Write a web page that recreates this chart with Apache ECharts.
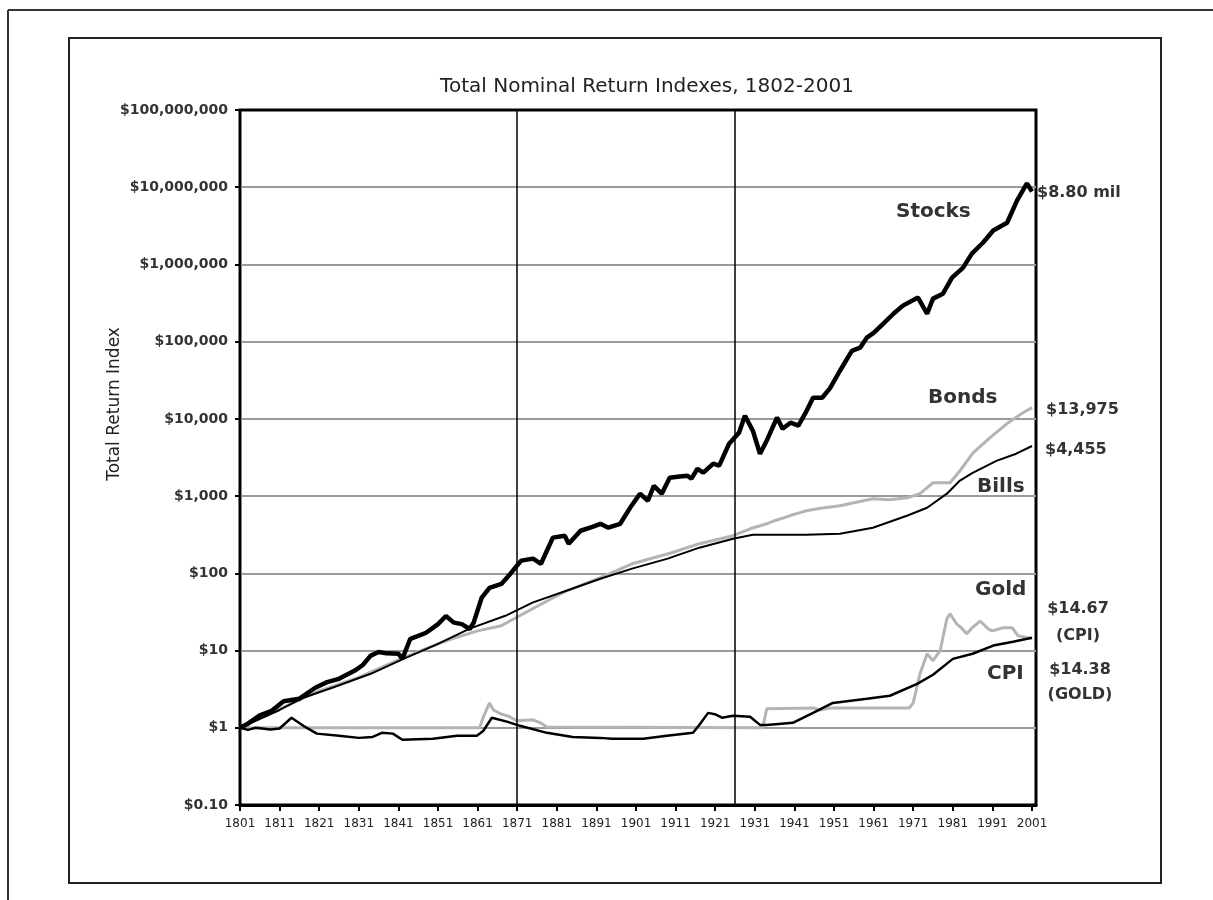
<!DOCTYPE html>
<html>
<head>
<meta charset="utf-8">
<script src="https://cdn.jsdelivr.net/npm/echarts@6/dist/echarts.min.js"></script>
<style>
  html, body { margin: 0; padding: 0; background: #fff; }
  #chart { width: 1213px; height: 900px; }
</style>
</head>
<body>
<div id="chart"></div>
<script>
// 数据 (读图估算)
const baseYear = 1801;
const xTickYears = [1801, 1811, 1821, 1831, 1841, 1851, 1861, 1871, 1881, 1891, 1901, 1911, 1921, 1931, 1941, 1951, 1961, 1971, 1981, 1991, 2001];
const dividerYears = [1871, 1926];
const yTickValues = [0.1, 1, 10, 100, 1000, 10000, 100000, 1000000, 10000000, 100000000];

const stockYears = [1801, 1803, 1806, 1809, 1812, 1816, 1820, 1823, 1826, 1830, 1832, 1834, 1836, 1838, 1841, 1842, 1844, 1846, 1848, 1851, 1853, 1855, 1857, 1859, 1860, 1862, 1864, 1867, 1869, 1870.5, 1872, 1875, 1877, 1880, 1883, 1884, 1887, 1890, 1892, 1894, 1897, 1899.5, 1902, 1904, 1905.5, 1907.5, 1909.5, 1912, 1914, 1915, 1916.5, 1918, 1920.5, 1922, 1924.5, 1927, 1928.5, 1930.5, 1932.3, 1934, 1936.6, 1938, 1940, 1942, 1944, 1945.7, 1948, 1950, 1952.5, 1955.5, 1957.6, 1959.3, 1961, 1963.4, 1966, 1968.4, 1972.2, 1974.5, 1976, 1978.5, 1980.8, 1983.6, 1985.8, 1988.6, 1991.2, 1994.7, 1997.2, 1999.7, 2001];
const stockValues = [1, 1.13, 1.45, 1.66, 2.2, 2.38, 3.3, 3.9, 4.3, 5.5, 6.5, 8.6, 9.6, 9.2, 9.1, 7.8, 14.2, 15.5, 17, 22, 28, 23, 22, 19, 23, 48, 65, 73, 95, 118, 146, 155, 133, 290, 307, 242, 356, 400, 438, 390, 438, 705, 1075, 870, 1360, 1075, 1730, 1800, 1840, 1680, 2260, 2010, 2630, 2480, 4770, 6620, 11000, 7030, 3540, 5220, 10400, 7450, 8930, 8180, 12500, 18800, 18800, 25000, 42000, 76000, 83500, 113000, 130000, 170000, 230000, 293000, 372000, 230000, 361000, 418000, 675000, 910000, 1380000, 1910000, 2750000, 3470000, 6700000, 11200000, 8800000];

const bondYears = [1801, 1811, 1821, 1831, 1841, 1851, 1856, 1861, 1867, 1875, 1883, 1892, 1900, 1910, 1917, 1925.5, 1930, 1934, 1936, 1940, 1942.4, 1944, 1948, 1952.5, 1956, 1960.8, 1965, 1969.4, 1972.7, 1976, 1980.3, 1982.8, 1986.1, 1990.4, 1994.7, 1998.7, 2001];
const bondValues = [1, 1.75, 3.0, 4.5, 7.6, 12.2, 15, 18, 21, 35, 58, 88, 133, 185, 242, 307, 380, 438, 480, 560, 610, 647, 700, 750, 820, 925, 900, 950, 1075, 1490, 1490, 2130, 3640, 5710, 8700, 12000, 13975];

const billYears = [1801, 1811, 1817, 1825, 1834, 1842, 1851, 1859, 1868, 1875, 1883.6, 1892, 1900, 1909, 1917, 1925.5, 1930.5, 1944, 1952.5, 1960.8, 1969.4, 1974.5, 1979.5, 1982.8, 1986, 1992, 1997, 2001];
const billValues = [1, 1.7, 2.45, 3.4, 5.0, 7.7, 12.2, 19.2, 28.2, 42, 60, 85, 115, 155, 215, 281, 316, 316, 326, 390, 557, 707, 1075, 1590, 2000, 2860, 3540, 4455];

const goldYears = [1801, 1861.5, 1862.5, 1864, 1865, 1867, 1869, 1870, 1871, 1875, 1877, 1878.5, 1879, 1933, 1934, 1946, 1947.5, 1950, 1968, 1970, 1971, 1972.7, 1973.5, 1974.5, 1976, 1977.8, 1979.5, 1980.3, 1982, 1983, 1984.5, 1986, 1987.9, 1990, 1991, 1993.7, 1996, 1997.5, 2001];
const goldValues = [1, 1, 1.4, 2.1, 1.7, 1.5, 1.4, 1.3, 1.23, 1.27, 1.15, 1.02, 1, 1, 1.76, 1.8, 1.7, 1.8, 1.8, 1.8, 2.1, 5, 6.5, 9.1, 7.4, 10, 25.8, 30, 22, 20, 16.5, 20, 24, 19, 18, 19.7, 19.7, 15.5, 14.38];

const cpiYears = [1801, 1803, 1805, 1808.6, 1811, 1814, 1817, 1820.4, 1826, 1831, 1834.5, 1836.8, 1839.6, 1842, 1849.7, 1855.8, 1860.8, 1862.4, 1864.6, 1868.4, 1871.7, 1878.5, 1885, 1891.9, 1895, 1902.8, 1908.8, 1915.4, 1917.2, 1919.2, 1920.9, 1922.7, 1925.5, 1929.8, 1932.3, 1934, 1940.6, 1945.7, 1950.7, 1959.3, 1965.1, 1972, 1976, 1981, 1986, 1991.2, 1996.2, 2001];
const cpiValues = [1, 0.94, 1.0, 0.95, 0.98, 1.35, 1.06, 0.84, 0.79, 0.74, 0.76, 0.86, 0.84, 0.70, 0.72, 0.79, 0.79, 0.91, 1.35, 1.2, 1.06, 0.86, 0.76, 0.74, 0.72, 0.72, 0.79, 0.86, 1.13, 1.56, 1.5, 1.35, 1.43, 1.39, 1.09, 1.09, 1.16, 1.56, 2.1, 2.37, 2.6, 3.7, 4.86, 7.8, 9.1, 11.6, 13, 14.67];

const toPoints = (years, values) => years.map((y, i) => [y - baseYear, values[i]]);

const FONT = 'DejaVu Sans';
const myChart = echarts.init(document.getElementById('chart'), null, { renderer: 'canvas' });

// 外框和文字
const graphics = [
    { type: 'line', shape: { x1: 8, y1: 10, x2: 1213, y2: 10 }, style: { stroke: '#333', lineWidth: 2 } },
    { type: 'line', shape: { x1: 8, y1: 10, x2: 8, y2: 900 }, style: { stroke: '#333', lineWidth: 2 } },
    { type: 'rect', shape: { x: 69, y: 38, width: 1092, height: 845 }, style: { fill: 'none', stroke: '#222', lineWidth: 2 } },
    {
        type: 'text', x: 115, y: 404, rotation: Math.PI / 2,
        style: { text: 'Total Return Index', font: '17px "DejaVu Sans"', fill: '#222', align: 'center', verticalAlign: 'middle' }
    }
];
const notes = [
    ['Stocks', 896, 212, 'left', 20],
    ['Bonds', 928, 398, 'left', 20],
    ['Bills', 977, 487, 'left', 20],
    ['Gold', 975, 590, 'left', 20],
    ['CPI', 987, 674, 'left', 20],
    ['$8.80 mil', 1037, 193, 'left', 16],
    ['$13,975', 1046, 410, 'left', 16],
    ['$4,455', 1045, 450, 'left', 16],
    ['$14.67', 1078, 609, 'center', 16],
    ['(CPI)', 1078, 636, 'center', 16],
    ['$14.38', 1080, 670, 'center', 16],
    ['(GOLD)', 1080, 695, 'center', 16]
];
notes.forEach(([text, x, y, align, size]) => {
    graphics.push({
        type: 'text', x: x, y: y, z: 100,
        style: { text: text, font: 'bold ' + size + 'px "DejaVu Sans"', fill: '#333', align: align, verticalAlign: 'middle' }
    });
});

myChart.setOption({
    animation: false,
    backgroundColor: '#fff',
    title: {
        text: 'Total Nominal Return Indexes, 1802-2001',
        left: 642,
        top: 72,
        textAlign: 'center',
        textStyle: { fontFamily: FONT, fontSize: 20, fontWeight: 'normal', color: '#222' }
    },
    grid: {
        left: 240,
        top: 110,
        right: 177,
        bottom: 95,
        show: true,
        borderColor: '#000',
        borderWidth: 3,
        backgroundColor: 'transparent'
    },
    xAxis: {
        type: 'value',
        min: 0,
        max: 201,
        interval: 10,
        splitLine: { show: false },
        axisLine: { show: true, lineStyle: { color: '#000', width: 3 } },
        axisTick: { show: true, inside: false, length: 6, lineStyle: { color: '#000', width: 2 } },
        axisLabel: {
            margin: 13,
            fontFamily: FONT,
            fontSize: 12,
            color: '#222',
            showMaxLabel: false,
            formatter: (v) => (xTickYears.indexOf(v + baseYear) >= 0 ? String(v + baseYear) : '')
        }
    },
    yAxis: {
        type: 'log',
        logBase: 10,
        min: yTickValues[0],
        max: yTickValues[yTickValues.length - 1],
        splitLine: { show: true, showMinLine: false, showMaxLine: false, lineStyle: { color: '#9a9a9a', width: 2 } },
        axisLine: { show: true, lineStyle: { color: '#000', width: 2 } },
        axisTick: { show: true, inside: false, length: 5, lineStyle: { color: '#000', width: 2 } },
        axisLabel: {
            margin: 12,
            fontFamily: FONT,
            fontSize: 14,
            fontWeight: 'bold',
            color: '#333',
            formatter: (v) => (v < 1 ? '$0.10' : '$' + Math.round(v).toLocaleString('en-US'))
        }
    },
    graphic: graphics,
    series: [
        {
            name: 'dividers',
            type: 'line',
            data: [],
            z: 1,
            markLine: {
                silent: true,
                symbol: 'none',
                label: { show: false },
                lineStyle: { color: '#000', width: 1.5, type: 'solid' },
                data: dividerYears.map((y) => ({ xAxis: y - baseYear }))
            }
        },
        {
            name: 'Gold', type: 'line', showSymbol: false, z: 2,
            data: toPoints(goldYears, goldValues),
            lineStyle: { color: '#b4b4b4', width: 3 }
        },
        {
            name: 'Bonds', type: 'line', showSymbol: false, z: 3,
            data: toPoints(bondYears, bondValues),
            lineStyle: { color: '#b4b4b4', width: 3 }
        },
        {
            name: 'CPI', type: 'line', showSymbol: false, z: 4,
            data: toPoints(cpiYears, cpiValues),
            lineStyle: { color: '#000', width: 2.5 }
        },
        {
            name: 'Bills', type: 'line', showSymbol: false, z: 5,
            data: toPoints(billYears, billValues),
            lineStyle: { color: '#000', width: 2 }
        },
        {
            name: 'Stocks', type: 'line', showSymbol: false, z: 6,
            data: toPoints(stockYears, stockValues),
            lineStyle: { color: '#000', width: 4.5 }
        }
    ]
});
</script>
</body>
</html>
